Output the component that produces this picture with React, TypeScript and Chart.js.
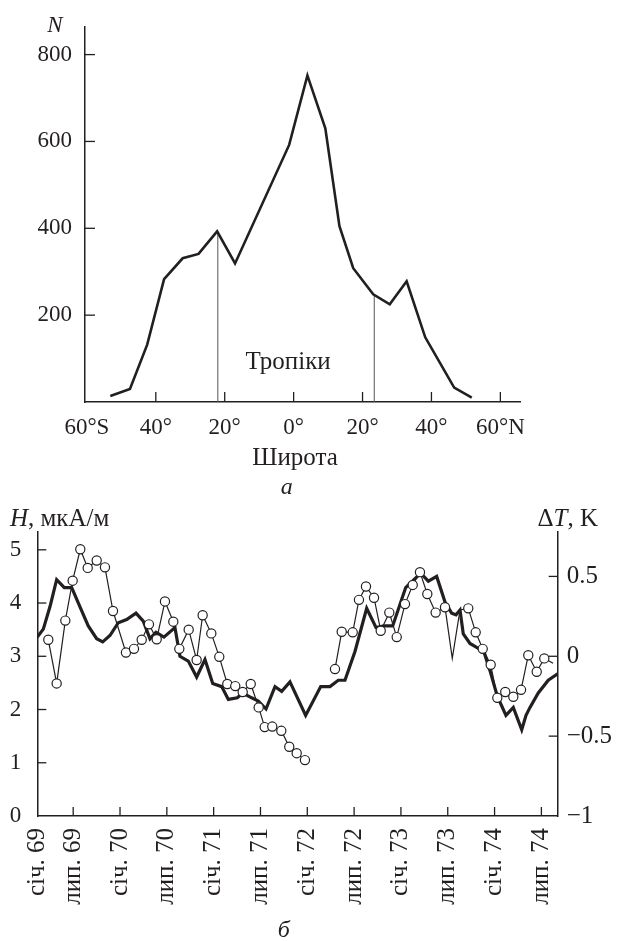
import React, { useEffect, useRef } from "react";
import { Chart, registerables } from "chart.js";

Chart.register(...registerables);

const INK = "#231f20";
const SERIF = "'Liberation Serif', 'DejaVu Serif', serif";

// ---------- Panel "а": distribution by latitude ----------
const latitudes = [-53.2, -47.5, -42.5, -37.6, -32.2, -27.6, -22.2, -17.0, -1.3, 4.0, 9.2, 13.3, 17.3, 23.1, 27.9, 32.8, 38.2, 46.6, 51.7];
const counts = [14, 30, 132, 283, 331, 341, 393, 319, 592, 752, 630, 405, 308, 248, 225, 278, 149, 33, 10];
const tropicLats = [-22.0, 23.4];
const tropicTops = [391, 246];
const latTickValues = [-60, -40, -20, 0, 20, 40, 60];
const latTickLabels = ["60°S", "40°", "20°", "0°", "20°", "40°", "60°N"];
const countTickValues = [200, 400, 600, 800];

// ---------- Panel "б": H (circles) and ΔT (thick line) ----------
// x = months since January 1969
const hMonths = [2.81, 3.88, 4.99, 5.93, 6.91, 7.86, 9.01, 10.07, 11.10, 12.76, 13.79, 14.78, 15.71, 16.70, 17.76, 18.83, 19.60, 20.80, 21.82, 22.59, 23.70, 24.72, 25.75, 26.77, 27.72, 28.75, 29.77, 30.54, 31.51, 32.67, 33.69, 34.64, 35.70, 37.6, 39.55, 40.41, 41.82, 42.62, 43.52, 44.55, 45.41, 46.51, 47.46, 48.52, 49.51, 50.44, 51.38, 52.45, 53.65, 54.58, 55.57, 56.63, 57.58, 58.48, 59.50, 60.35, 61.37, 62.40, 63.39, 64.32, 65.40, 66.37, 67.5];
const hValues = [3.31, 2.49, 3.67, 4.42, 5.01, 4.66, 4.80, 4.67, 3.85, 3.07, 3.14, 3.31, 3.60, 3.32, 4.03, 3.65, 3.14, 3.50, 2.93, 3.77, 3.43, 2.99, 2.48, 2.44, 2.33, 2.48, 2.04, 1.67, 1.68, 1.60, 1.30, 1.18, 1.05, null, 2.76, 3.46, 3.45, 4.06, 4.31, 4.10, 3.48, 3.82, 3.36, 3.98, 4.34, 4.58, 4.17, 3.82, 3.92, 2.96, 3.87, 3.90, 3.45, 3.14, 2.84, 2.22, 2.33, 2.24, 2.37, 3.02, 2.71, 2.96, 2.87];
const hCircle = [1, 1, 1, 1, 1, 1, 1, 1, 1, 1, 1, 1, 1, 1, 1, 1, 1, 1, 1, 1, 1, 1, 1, 1, 1, 1, 1, 1, 1, 1, 1, 1, 1, 0, 1, 1, 1, 1, 1, 1, 1, 1, 1, 1, 1, 1, 1, 1, 1, 0, 0, 1, 1, 1, 1, 1, 1, 1, 1, 1, 1, 1, 0];
const tMonths = [1.40, 2.17, 3.02, 3.88, 4.86, 5.81, 6.87, 7.93, 9.01, 9.78, 10.71, 11.78, 12.85, 14.05, 14.98, 15.84, 16.61, 17.63, 19.04, 19.68, 20.75, 21.82, 22.89, 23.88, 25.03, 25.88, 27.03, 27.72, 28.87, 29.72, 30.71, 31.86, 32.72, 33.78, 35.79, 37.72, 38.91, 39.97, 40.83, 42.11, 43.61, 44.80, 45.83, 46.94, 48.61, 49.67, 50.53, 51.51, 52.58, 53.65, 54.50, 55.06, 55.57, 55.99, 56.85, 57.91, 58.56, 59.41, 60.35, 61.46, 62.40, 63.48, 64.03, 64.54, 65.60, 66.88, 68.09];
const tValues = [0.12, 0.17, 0.31, 0.48, 0.43, 0.43, 0.31, 0.19, 0.11, 0.09, 0.13, 0.21, 0.23, 0.27, 0.22, 0.11, 0.15, 0.12, 0.18, 0.00, -0.03, -0.13, -0.02, -0.17, -0.19, -0.27, -0.26, -0.23, -0.26, -0.28, -0.33, -0.19, -0.22, -0.16, -0.37, -0.19, -0.19, -0.15, -0.15, 0.03, 0.30, 0.18, 0.19, 0.19, 0.43, 0.48, 0.52, 0.47, 0.50, 0.34, 0.27, 0.26, 0.29, 0.14, 0.08, 0.05, 0.04, -0.09, -0.25, -0.37, -0.32, -0.46, -0.37, -0.32, -0.23, -0.15, -0.11];
const monthTickValues = [0, 6, 12, 18, 24, 30, 36, 42, 48, 54, 60, 66];
const monthTickLabels = ["січ. 69", "лип. 69", "січ. 70", "лип. 70", "січ. 71", "лип. 71", "січ. 72", "лип. 72", "січ. 73", "лип. 73", "січ. 74", "лип. 74"];
const hTickValues = [0, 1, 2, 3, 4, 5];
const tTickValues = [-1, -0.5, 0, 0.5];
const tTickLabels = ["−1", "−0.5", "0", "0.5"];

Chart.defaults.font.family = SERIF;
Chart.defaults.color = INK;

const FONT_TICK = { family: SERIF, size: 23 };
const FONT_TICK_B = { family: SERIF, size: 25 };

// inward tick marks drawn from the library's own scales
const inwardTicks = {
  id: "inwardTicks",
  afterDatasetsDraw(chart: any, _args: any, opts: any) {
    const { ctx, chartArea: a } = chart;
    const len = opts.len || 10;
    ctx.save();
    ctx.strokeStyle = INK;
    ctx.lineWidth = opts.width || 1.3;
    Object.values(chart.scales).forEach((s: any) => {
      s.ticks.forEach((t: any) => {
        const p = s.getPixelForValue(t.value);
        ctx.beginPath();
        if (s.isHorizontal()) {
          if (Math.abs(p - a.left) < 3 || Math.abs(p - a.right) < 3) return;
          ctx.moveTo(p, a.bottom);
          ctx.lineTo(p, a.bottom - len);
        } else {
          if (Math.abs(p - a.bottom) < 3 || Math.abs(p - a.top) < 3) return;
          if (s.position === "left") {
            ctx.moveTo(a.left, p);
            ctx.lineTo(a.left + len, p);
          } else {
            ctx.moveTo(a.right, p);
            ctx.lineTo(a.right - len, p);
          }
        }
        ctx.stroke();
      });
    });
    ctx.restore();
  },
};

const textsA = {
  id: "textsA",
  afterDraw(chart: any) {
    const { ctx, chartArea: a, scales } = chart;
    const x = scales.x;
    const y = scales.y;
    ctx.save();
    ctx.fillStyle = INK;
    ctx.textAlign = "center";
    ctx.textBaseline = "middle";
    ctx.font = `italic 23px ${SERIF}`;
    ctx.fillText("N", a.left - 30, a.top - 1);
    ctx.font = `25px ${SERIF}`;
    ctx.fillText("Тропіки", x.getPixelForValue(-1.6), y.getPixelForValue(91));
    ctx.fillText("Широта", x.getPixelForValue(0.4), a.bottom + 56);
    ctx.font = `italic 24px ${SERIF}`;
    ctx.fillText("а", x.getPixelForValue(-2), a.bottom + 86);
    ctx.restore();
  },
};

const textsB = {
  id: "textsB",
  afterDraw(chart: any) {
    const { ctx, chartArea: a, scales } = chart;
    ctx.save();
    ctx.fillStyle = INK;
    ctx.textBaseline = "middle";
    ctx.textAlign = "left";
    const ty = a.top - 12;
    // left title: H, мкА/м
    let cx = 10;
    ctx.font = `italic 25px ${SERIF}`;
    ctx.fillText("H", cx, ty);
    cx += ctx.measureText("H").width;
    ctx.font = `25px ${SERIF}`;
    ctx.fillText(", мкА/м", cx, ty);
    // right title: ΔT, K
    ctx.font = `25px ${SERIF}`;
    const w1 = ctx.measureText("Δ").width;
    const w3 = ctx.measureText(", K").width;
    ctx.font = `italic 25px ${SERIF}`;
    const w2 = ctx.measureText("T").width;
    let rx = 598 - (w1 + w2 + w3);
    ctx.font = `25px ${SERIF}`;
    ctx.fillText("Δ", rx, ty);
    rx += w1;
    ctx.font = `italic 25px ${SERIF}`;
    ctx.fillText("T", rx, ty);
    rx += w2;
    ctx.font = `25px ${SERIF}`;
    ctx.fillText(", K", rx, ty);
    // panel letter
    ctx.textAlign = "center";
    ctx.font = `italic 24px ${SERIF}`;
    ctx.fillText("б", scales.x.getPixelForValue(33), a.bottom + 115);
    ctx.restore();
  },
};

function configA(): any {
  const line = latitudes.map((v, i) => ({ x: v, y: counts[i] }));
  const tropicSets = tropicLats.map((lat, i) => ({
    data: [{ x: lat, y: 0 }, { x: lat, y: tropicTops[i] }],
    borderColor: "#555",
    borderWidth: 1,
    pointRadius: 0,
    order: 2,
  }));
  return {
    type: "line",
    data: {
      datasets: [
        {
          data: line,
          borderColor: INK,
          borderWidth: 2.6,
          borderJoinStyle: "miter",
          pointRadius: 0,
          tension: 0,
          order: 1,
        },
        ...tropicSets,
      ],
    },
    options: {
      responsive: false,
      animation: false,
      devicePixelRatio: 1,
      layout: { padding: { left: 0, top: 22, right: 100, bottom: 0 } },
      plugins: { legend: { display: false }, tooltip: { enabled: false }, inwardTicks: { len: 10, width: 1.3 } },
      scales: {
        x: {
          type: "linear",
          min: -60.55,
          max: 65.7,
          afterFit: (s: any) => { s.height = 98; },
          afterBuildTicks: (s: any) => { s.ticks = latTickValues.map((v) => ({ value: v })); },
          ticks: {
            autoSkip: false,
            maxRotation: 0,
            padding: 12,
            font: FONT_TICK,
            color: INK,
            callback: (_v: any, i: number) => latTickLabels[i],
          },
          grid: { display: false, drawTicks: false },
          border: { display: true, color: INK, width: 1.5 },
        },
        y: {
          type: "linear",
          min: 0,
          max: 864,
          afterFit: (s: any) => { s.width = 85; },
          afterBuildTicks: (s: any) => { s.ticks = countTickValues.map((v) => ({ value: v })); },
          ticks: { padding: 13, font: FONT_TICK, color: INK, callback: (v: any) => String(v) },
          grid: { display: false, drawTicks: false },
          border: { display: true, color: INK, width: 1.5 },
        },
      },
    },
    plugins: [inwardTicks, textsA],
  };
}

function configB(): any {
  const hData = hMonths.map((m, i) => ({ x: m, y: hValues[i] }));
  const tData = tMonths.map((m, i) => ({ x: m, y: tValues[i] }));
  return {
    type: "line",
    data: {
      datasets: [
        {
          data: hData,
          yAxisID: "yH",
          borderColor: INK,
          borderWidth: 1.2,
          pointRadius: hCircle.map((c) => (c ? 4.6 : 0)),
          pointBackgroundColor: "#ffffff",
          pointBorderColor: INK,
          pointBorderWidth: 1.2,
          spanGaps: false,
          tension: 0,
          order: 0,
        },
        {
          data: tData,
          yAxisID: "yT",
          borderColor: INK,
          borderWidth: 3.2,
          borderJoinStyle: "miter",
          pointRadius: 0,
          tension: 0,
          order: 1,
        },
      ],
    },
    options: {
      responsive: false,
      animation: false,
      devicePixelRatio: 1,
      layout: { padding: { left: 0, top: 31.7, right: 0, bottom: 0 } },
      plugins: { legend: { display: false }, tooltip: { enabled: false }, inwardTicks: { len: 9, width: 1.3 } },
      scales: {
        x: {
          type: "linear",
          min: 1.4,
          max: 68.09,
          afterFit: (s: any) => { s.height = 125; },
          afterBuildTicks: (s: any) => {
            s.ticks = monthTickValues.map((v) => ({ value: Math.max(v, s.min) }));
          },
          ticks: {
            autoSkip: false,
            minRotation: 90,
            maxRotation: 90,
            padding: 12,
            font: FONT_TICK_B,
            color: INK,
            callback: (_v: any, i: number) => monthTickLabels[i],
          },
          grid: { display: false, drawTicks: false },
          border: { display: true, color: INK, width: 1.5 },
        },
        yH: {
          type: "linear",
          position: "left",
          min: 0,
          max: 5.34,
          afterFit: (s: any) => { s.width = 37.3; },
          afterBuildTicks: (s: any) => { s.ticks = hTickValues.map((v) => ({ value: v })); },
          ticks: { padding: 16, font: FONT_TICK, color: INK, callback: (v: any) => String(v) },
          grid: { display: false, drawTicks: false },
          border: { display: true, color: INK, width: 1.5 },
        },
        yT: {
          type: "linear",
          position: "right",
          min: -1,
          max: 0.78,
          afterFit: (s: any) => { s.width = 62.3; },
          afterBuildTicks: (s: any) => { s.ticks = tTickValues.map((v) => ({ value: v })); },
          ticks: { padding: 9, font: FONT_TICK_B, color: INK, callback: (_v: any, i: number) => tTickLabels[i] },
          grid: { display: false, drawTicks: false },
          border: { display: true, color: INK, width: 1.5 },
        },
      },
    },
    plugins: [inwardTicks, textsB],
  };
}

export default function App() {
  const refA = useRef<HTMLCanvasElement>(null);
  const refB = useRef<HTMLCanvasElement>(null);
  useEffect(() => {
    const a = new Chart(refA.current as HTMLCanvasElement, configA());
    const b = new Chart(refB.current as HTMLCanvasElement, configB());
    return () => {
      a.destroy();
      b.destroy();
    };
  }, []);
  return (
    <div style={{ position: "absolute", left: 0, top: 0, width: 620, height: 941, background: "#ffffff" }}>
      <canvas ref={refA} width={620} height={500} style={{ position: "absolute", left: 0, top: 0, width: 620, height: 500 }} />
      <canvas ref={refB} width={620} height={441} style={{ position: "absolute", left: 0, top: 500, width: 620, height: 441 }} />
    </div>
  );
}
